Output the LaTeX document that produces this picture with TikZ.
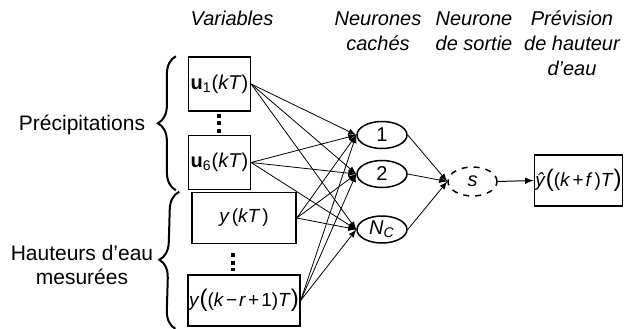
\documentclass[tikz,border=0pt]{standalone}
\usepackage{fontspec}
\setmainfont{Liberation Sans}
\usetikzlibrary{shapes}
\usetikzlibrary{positioning}
\usetikzlibrary{arrows}
\usetikzlibrary{decorations.pathreplacing}

\tikzset{
    varbox/.style={draw, line width=0.75pt, inner sep=1pt, minimum width=27.5pt, minimum height=27pt},
    widebox/.style={draw, line width=0.75pt, inner sep=0.5pt, minimum width=52pt, minimum height=25.5pt, font=\fontsize{9.5}{11}\selectfont},
    neuron/.style={ellipse, draw, line width=0.75pt, inner sep=0pt, minimum width=25pt, minimum height=13.5pt},
    link/.style={-latex, line width=0.4pt},
    vdots/.style={line width=2pt, dash pattern=on 2pt off 1.75pt},
    bigbrace/.style={decorate, decoration={brace, amplitude=9pt}, line width=1pt},
    header/.style={align=center, font=\itshape\fontsize{10}{12.5}\selectfont}
}

\begin{document}
\begin{tikzpicture}[x=0.5pt, y=-0.5pt]
        \useasboundingbox (0,0) rectangle (634,328);

        % headers
        \node[header] (h_var) at (232,18) {Variables};
        \node[header] (h_hid) at (378,31) {Neurones\\cachés};
        \node[header] (h_out) at (474,31) {Neurone\\de sortie};
        \node[header] (h_prev) at (572,43) {Prévision\\de hauteur\\d’eau};

        % inputs
        \node[varbox] (u_first) at (219.5,84) {\textbf{u}\textsubscript{1}(\textit{kT})};
        \node[varbox] (u_last) at (219.5,162.5) {\textbf{u}\textsubscript{6}(\textit{kT})};
        \node[widebox] (y_first) at (244,218) {\textit{y}\kern1pt(\textit{kT}\kern1pt)};
        \node[widebox] (y_last) at (244,300.5) {\textit{y}{\large(}(\textit{k}\kern1pt−\kern1pt\textit{r}\kern1pt+\kern1pt1)\textit{T}{\large)}};

        \draw[vdots] (u_first.south) ++(0,2) coordinate (d1a) -- (u_last.north);
        \draw[vdots] (y_first.south) ++(-11,9) coordinate (d2a) -- ++(0,18);

        % braces
        \draw[bigbrace] ([xshift=-6pt]u_last.south west) -- ([xshift=-6pt]u_first.north west);
        \draw[bigbrace] ([xshift=-6pt,yshift=-1pt]y_last.south west) -- ([xshift=-6pt]y_first.north west);
        \node[align=center, font=\fontsize{10.5}{12}\selectfont] (precip) at (82,125) {Précipitations};
        \node[align=center, font=\fontsize{10.5}{12}\selectfont] (hauteurs) at (82,265) {Hauteurs d’eau\\mesurées};

        % hidden layer
        \node[neuron] (hid_1) at (382,135) {1};
        \node[neuron] (hid_2) at (382,174) {2};
        \node[neuron] (hid_n) at (382,229.5) {\textit{N}\textsubscript{\textit{C}}};

        % output
        \node[neuron, dashed, minimum width=24.5pt, minimum height=14.5pt] (sortie) at (472.5,181.5) {\textit{s}};
        \node[draw, line width=0.75pt, inner sep=0.5pt, minimum width=42.5pt, minimum height=25.5pt, font=\fontsize{9.5}{11}\selectfont] (prevision) at (578.5,180.5) {\textit{ŷ}{\large(}(\textit{k}\kern1pt+\kern1pt\textit{f}\kern1pt)\textit{T}{\large)}};

        \foreach \src in {u_first, u_last, y_first, y_last}
            \foreach \dst in {hid_1, hid_2, hid_n}
                \draw[link] (\src.east) -- (\dst.west);
        \foreach \src in {hid_1, hid_2, hid_n}
            \draw[link] (\src.east) -- (sortie.west);
        \draw[-latex, line width=0.5pt] (sortie.east) -- (prevision.west);
    \end{tikzpicture}
\end{document}
